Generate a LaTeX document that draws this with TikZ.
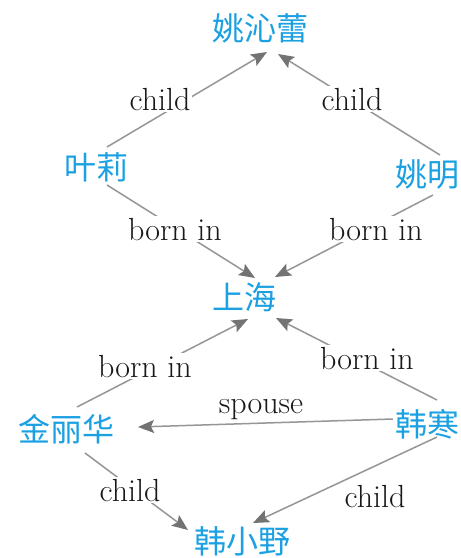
\documentclass[tikz,border=0pt]{standalone}
\usepackage{fontspec}
\newfontfamily\cjk{Noto Sans CJK SC}
\usetikzlibrary{arrows.meta}
\definecolor{namecol}{RGB}{27,161,226}
\definecolor{edgecol}{RGB}{150,150,150}
\definecolor{tipcol}{RGB}{115,115,115}
\begin{document}
\begin{tikzpicture}[x=1pt,y=-1pt,
  person/.style={inner sep=0pt, text=namecol, font=\cjk\fontsize{32}{34}\selectfont, text height=26.5pt, text depth=2.5pt, anchor=center},
  rel/.style={draw=edgecol, line width=1.5pt, -{Stealth[length=16pt,width=13pt,inset=3pt,color=tipcol,fill=tipcol]}},
  lab/.style={font=\fontsize{32}{34}\selectfont, fill=white, inner sep=1.5pt, anchor=base, text=black!90}]
\fill[white] (0,0) rectangle (461,558);
\useasboundingbox (0,0) rectangle (461,558);
% people / places
\node[person] (yqr) at (260,28) {姚沁蕾};
\node[person] (yl)  at (96,167) {叶莉};
\node[person] (ym)  at (427,174) {姚明};
\node[person] (sh)  at (244,297) {上海};
\node[person] (jlh) at (67,429) {金丽华};
\node[person] (hh)  at (427,424) {韩寒};
\node[person] (hxy) at (242,541) {韩小野};
% connectors
\draw[rel] ([shift={(11,-20)}]yl.center) -- ([shift={(7,24)}]yqr.center);
\draw[rel] ([shift={(13,-19)}]ym.center) -- ([shift={(18,26)}]yqr.center);
\draw[rel] ([shift={(11,18)}]yl.center) -- ([shift={(11,-19)}]sh.center);
\draw[rel] ([shift={(6,21)}]ym.center) -- ([shift={(31,-20)}]sh.center);
\draw[rel] ([shift={(10,-22)}]jlh.center) -- ([shift={(4,22)}]sh.center);
\draw[rel] ([shift={(10,-24)}]hh.center) -- ([shift={(32,21)}]sh.center);
\draw[rel] ([shift={(-34,-5)}]hh.center) -- ([shift={(71,-2)}]jlh.center);
\draw[rel] ([shift={(18,24)}]jlh.center) -- ([shift={(-54,-11)}]hxy.center);
\draw[rel] ([shift={(10,13)}]hh.center) -- ([shift={(11,-18)}]hxy.center);
% labels
\node[lab] (l1) at (160,110) {child};
\node[lab] (l2) at (352,110) {child};
\node[lab] (l3) at (175,240) {born in};
\node[lab] (l4) at (376,240) {born in};
\node[lab] (l5) at (145,377) {born in};
\node[lab] (l6) at (367,369) {born in};
\node[lab] (l7) at (261,413) {spouse};
\node[lab] (l8) at (130,501) {child};
\node[lab] (l9) at (375,507) {child};
\end{tikzpicture}
\end{document}
